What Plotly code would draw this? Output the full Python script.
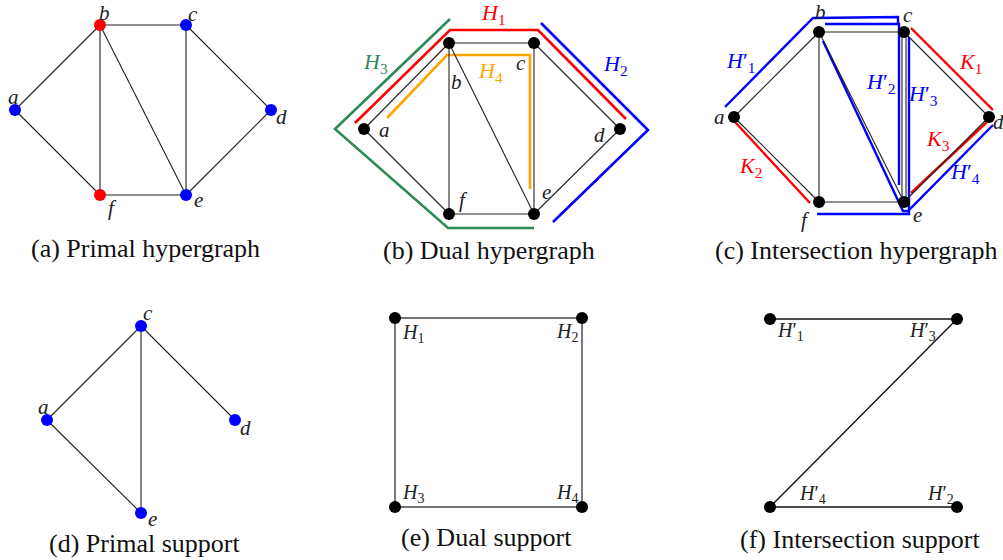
import plotly.graph_objects as go

# ---------------- data ----------------
NODE_NAMES = ["a", "b", "c", "d", "e", "f"]
GRAPH_EDGES = [("a", "b"), ("b", "c"), ("c", "d"), ("a", "f"), ("f", "e"),
               ("e", "d"), ("b", "f"), ("b", "e"), ("c", "e")]

# (a) primal hypergraph
A_X = [15, 100, 186, 271, 186, 100]
A_Y = [110, 25, 25, 110, 195, 195]
A_COLORS = ["#0000ff", "#ff0000", "#0000ff", "#0000ff", "#0000ff", "#ff0000"]
A_LABEL_X = [13, 104, 193, 281, 198, 112]
A_LABEL_Y = [97, 13, 14, 117, 200, 208]

# (b) dual hypergraph
B_X = [364, 449, 534, 620, 534, 449]
B_Y = [129, 43, 43, 129, 214, 214]
B_LABEL_X = [384, 456, 521, 599, 546, 463]
B_LABEL_Y = [130, 82, 63, 135, 192, 200]
B_HYPER_NAMES = ["1", "2", "3", "4"]
B_HYPER_COLORS = ["#ff0000", "#0000ff", "#2e8b57", "#ffa500"]
B_HYPER_X = [[355, 450, 538, 626], [541, 648, 553], [450, 335, 448, 534], [387, 447, 530, 530]]
B_HYPER_Y = [[123, 30, 30, 119], [23, 130, 222], [19, 129, 228, 228], [118, 55, 55, 189]]
B_HYPER_LABEL_X = [493, 615, 375, 490]
B_HYPER_LABEL_Y = [14, 65, 63, 72]

# (c) intersection hypergraph
C_X = [734, 819, 904, 989, 904, 819]
C_Y = [117, 32, 32, 117, 202, 202]
C_LABEL_X = [719, 820, 908, 998, 917, 805]
C_LABEL_Y = [117, 12, 15, 122, 215, 220]
C_DOUBLE_EDGE = ("c", "e")
C_DOUBLE_SHIFT = [-2, 2]
C_BLUE_NAMES = ["1", "2", "3", "4"]
C_BLUE_X = [[725, 813, 898, 898], [825, 899, 899], [909, 909, 817], [823, 903, 908, 993]]
C_BLUE_Y = [[107, 18, 17, 24], [24, 24, 185], [37, 214, 214], [41, 211, 211, 125]]
C_BLUE_LABEL_X = [740, 880, 923, 965]
C_BLUE_LABEL_Y = [62, 83, 95, 173]
C_RED_NAMES = ["1", "2", "3"]
C_RED_X = [[911, 993], [735, 810], [911, 987]]
C_RED_Y = [[28, 110], [122, 203], [193, 122]]
C_RED_LABEL_X = [970, 750, 938]
C_RED_LABEL_Y = [63, 167, 140]

# (d) primal support
D_NODES = ["a", "c", "d", "e"]
D_X = [47, 141, 235, 141]
D_Y = [420, 326, 420, 513]
D_LABEL_X = [43, 148, 245, 152]
D_LABEL_Y = [407, 313, 428, 519]
D_EDGES = [("c", "a"), ("c", "d"), ("c", "e"), ("a", "e")]

# (e) dual support
E_NODES = ["1", "2", "3", "4"]
E_X = [395, 582, 395, 582]
E_Y = [318, 318, 507, 507]
E_LABEL_X = [413, 567, 413, 567]
E_LABEL_Y = [333, 332, 493, 493]
E_EDGES = [("1", "2"), ("2", "4"), ("4", "3"), ("3", "1")]

# (f) intersection support
F_NODES = ["1", "2", "3", "4"]
F_X = [770, 957, 957, 770]
F_Y = [319, 507, 319, 507]
F_LABEL_X = [790, 940, 922, 812]
F_LABEL_Y = [331, 494, 331, 494]
F_EDGES = [("1", "3"), ("3", "4"), ("4", "2")]

CAPTIONS = ["(a) Primal hypergraph", "(b) Dual hypergraph", "(c) Intersection hypergraph",
            "(d) Primal support", "(e) Dual support", "(f) Intersection support"]
CAPTION_X = [145, 489, 856, 144, 486, 860]
CAPTION_Y = [248, 250, 250, 543, 537, 539]

# ---------------- drawing ----------------
FONT = "Liberation Serif"
fig = go.Figure()
annotations = []


def add_edges(names, xs, ys, edges, color="#222222", width=1.1, skip=()):
    ex, ey = [], []
    for u, v in edges:
        if (u, v) in skip:
            continue
        i, j = names.index(u), names.index(v)
        ex += [xs[i], xs[j], None]
        ey += [ys[i], ys[j], None]
    fig.add_trace(go.Scatter(x=ex, y=ey, mode="lines",
                             line=dict(color=color, width=width),
                             hoverinfo="skip", showlegend=False))


def add_nodes(xs, ys, colors):
    fig.add_trace(go.Scatter(x=xs, y=ys, mode="markers",
                             marker=dict(size=12, color=colors, line=dict(width=0)),
                             hoverinfo="skip", showlegend=False))


def add_path(xs, ys, color, width=2.6):
    fig.add_trace(go.Scatter(x=xs, y=ys, mode="lines",
                             line=dict(color=color, width=width),
                             hoverinfo="skip", showlegend=False))


def label(x, y, text, color="#222222", size=21):
    annotations.append(dict(x=x, y=y, xref="x", yref="y", text=text, showarrow=False,
                            font=dict(family=FONT, size=size, color=color),
                            xanchor="center", yanchor="middle"))


def hname(k, prime=False):
    if prime:
        return "<i>H</i>′<sub>%s</sub>" % k
    return "<i>H</i><sub>%s</sub>" % k


# (a)
add_edges(NODE_NAMES, A_X, A_Y, GRAPH_EDGES)
add_nodes(A_X, A_Y, A_COLORS)
for n, lx, ly in zip(NODE_NAMES, A_LABEL_X, A_LABEL_Y):
    label(lx, ly, "<i>%s</i>" % n)

# (b)
for hx, hy, col in zip(B_HYPER_X, B_HYPER_Y, B_HYPER_COLORS):
    add_path(hx, hy, col)
add_edges(NODE_NAMES, B_X, B_Y, GRAPH_EDGES)
add_nodes(B_X, B_Y, "black")
for n, lx, ly in zip(NODE_NAMES, B_LABEL_X, B_LABEL_Y):
    label(lx, ly, "<i>%s</i>" % n)
for k, lx, ly, col in zip(B_HYPER_NAMES, B_HYPER_LABEL_X, B_HYPER_LABEL_Y, B_HYPER_COLORS):
    label(lx, ly, hname(k), color=col, size=22)

# (c)
for hx, hy in zip(C_BLUE_X, C_BLUE_Y):
    add_path(hx, hy, "#0000ff", width=2.4)
for hx, hy in zip(C_RED_X, C_RED_Y):
    add_path(hx, hy, "#ff0000", width=2.4)
add_edges(NODE_NAMES, C_X, C_Y, GRAPH_EDGES, skip=(C_DOUBLE_EDGE,))
iu, iv = NODE_NAMES.index(C_DOUBLE_EDGE[0]), NODE_NAMES.index(C_DOUBLE_EDGE[1])
for s in C_DOUBLE_SHIFT:
    add_path([C_X[iu] + s, C_X[iv] + s], [C_Y[iu], C_Y[iv]], "#222222", width=1.1)
add_nodes(C_X, C_Y, "black")
for n, lx, ly in zip(NODE_NAMES, C_LABEL_X, C_LABEL_Y):
    label(lx, ly, "<i>%s</i>" % n)
for k, lx, ly in zip(C_BLUE_NAMES, C_BLUE_LABEL_X, C_BLUE_LABEL_Y):
    label(lx, ly, hname(k, prime=True), color="#0000ff", size=22)
for k, lx, ly in zip(C_RED_NAMES, C_RED_LABEL_X, C_RED_LABEL_Y):
    label(lx, ly, "<i>K</i><sub>%s</sub>" % k, color="#ff0000", size=22)

# (d)
add_edges(D_NODES, D_X, D_Y, D_EDGES)
add_nodes(D_X, D_Y, "#0000ff")
for n, lx, ly in zip(D_NODES, D_LABEL_X, D_LABEL_Y):
    label(lx, ly, "<i>%s</i>" % n)

# (e)
add_edges(E_NODES, E_X, E_Y, E_EDGES, color="#444444", width=1.4)
add_nodes(E_X, E_Y, "black")
for n, lx, ly in zip(E_NODES, E_LABEL_X, E_LABEL_Y):
    label(lx, ly, hname(n), size=20)

# (f)
add_edges(F_NODES, F_X, F_Y, F_EDGES, color="#111111", width=1.4)
add_nodes(F_X, F_Y, "black")
for n, lx, ly in zip(F_NODES, F_LABEL_X, F_LABEL_Y):
    label(lx, ly, hname(n, prime=True), size=20)

# captions
for t, cx, cy in zip(CAPTIONS, CAPTION_X, CAPTION_Y):
    label(cx, cy, t, color="#111111", size=26)

fig.update_layout(
    width=1003, height=560,
    margin=dict(l=0, r=0, t=0, b=0),
    paper_bgcolor="white", plot_bgcolor="white",
    xaxis=dict(range=[0, 1003], visible=False, fixedrange=True),
    yaxis=dict(range=[560, 0], visible=False, fixedrange=True),
    annotations=annotations,
    showlegend=False,
)
fig.write_html("out.html", config={"displayModeBar": False},
               post_script="document.body.style.margin='0';document.body.style.overflow='hidden';")
